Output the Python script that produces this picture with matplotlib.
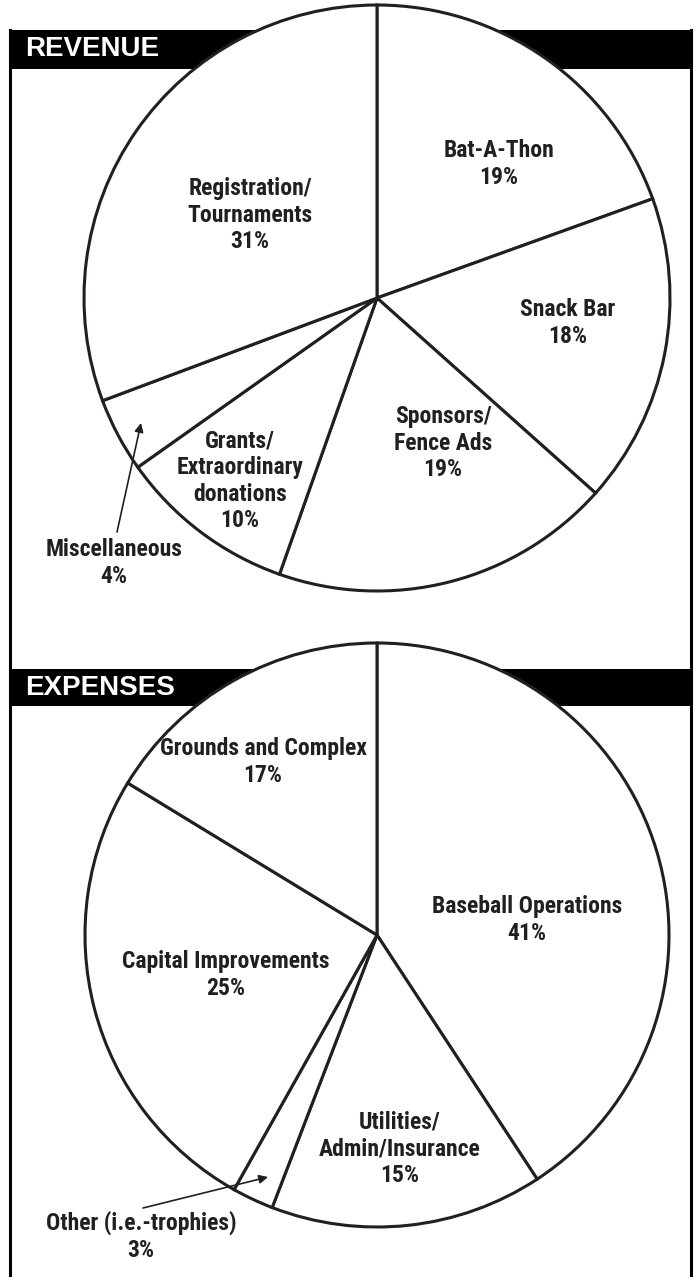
import matplotlib
matplotlib.use("Agg")
import matplotlib.pyplot as plt
from matplotlib.patches import Rectangle

# revenue slices, clockwise from 12 o'clock (shares as drawn in the picture)
rev_names = ["Bat-A-Thon", "Snack Bar", "Sponsors/\nFence Ads",
             "Grants/\nExtraordinary\ndonations", "Miscellaneous", "Registration/\nTournaments"]
rev_share = [19.5, 17.1, 18.8, 9.8, 4.1, 30.7]
rev_pct = ["19%", "18%", "19%", "10%", "4%", "31%"]

# expense slices, clockwise from 12 o'clock
exp_names = ["Baseball Operations", "Utilities/\nAdmin/Insurance", "Other (i.e.-trophies)",
             "Capital Improvements", "Grounds and Complex"]
exp_share = [40.8, 15.1, 2.3, 25.6, 16.3]
exp_pct = ["41%", "15%", "3%", "25%", "17%"]

W, H = 699, 1277
ink = "#231f20"
lab_font = ["Roboto Condensed", "Liberation Sans", "DejaVu Sans"]
head_font = ["Liberation Sans", "DejaVu Sans"]

fig = plt.figure(figsize=(W / 100, H / 100), dpi=100)
ax = fig.add_axes([0, 0, 1, 1])


def Y(y):
    # picture rows run downwards
    return H - y


# frame and header bars
ax.plot([10, 10], [Y(30), Y(H)], color="black", lw=2.2, zorder=1)
ax.plot([691, 691], [Y(30), Y(H)], color="black", lw=2.2, zorder=1)
ax.add_patch(Rectangle((9, Y(69)), 683, 39, facecolor="black", edgecolor="none", zorder=1))
ax.add_patch(Rectangle((9, Y(706)), 683, 37, facecolor="black", edgecolor="none", zorder=1))
ax.text(25, Y(56), "REVENUE", color="white", fontsize=20, fontweight="bold",
        family=head_font, va="baseline", zorder=2)
ax.text(25, Y(695), "EXPENSES", color="white", fontsize=20, fontweight="bold",
        family=head_font, va="baseline", zorder=2)

wp = dict(facecolor="white", edgecolor=ink, linewidth=2.2, zorder=3)
ax.pie(rev_share, startangle=90, counterclock=False, center=(377, Y(298)), radius=293,
       wedgeprops=wp, frame=True)
ax.pie(exp_share, startangle=90, counterclock=False, center=(377, Y(935)), radius=292,
       wedgeprops=wp, frame=True)

# label positions (picture pixels)
rev_pos = [(499, 164), (568, 323), (443, 443), (240, 481), (114, 563), (250, 215)]
exp_pos = [(527, 920), (400, 1149), (141, 1236), (226, 975), (263, 762)]

for names, pcts, pos in [(rev_names, rev_pct, rev_pos), (exp_names, exp_pct, exp_pos)]:
    for n, p, (x, y) in zip(names, pcts, pos):
        ax.text(x, Y(y), n + "\n" + p, ha="center", va="center", fontsize=17,
                fontweight="bold", family=lab_font, color=ink, linespacing=1.2, zorder=5)

arrow = dict(arrowstyle="-|>", color=ink, lw=1.2, mutation_scale=13, shrinkA=0, shrinkB=0)
ax.annotate("", xy=(141, Y(423)), xytext=(117, Y(532)), arrowprops=arrow, zorder=5)
ax.annotate("", xy=(268, Y(1177)), xytext=(143, Y(1208)), arrowprops=arrow, zorder=5)

ax.set_xlim(0, W)
ax.set_ylim(0, H)
ax.set_aspect("equal")
ax.axis("off")

fig.savefig("out.png", dpi=100)
